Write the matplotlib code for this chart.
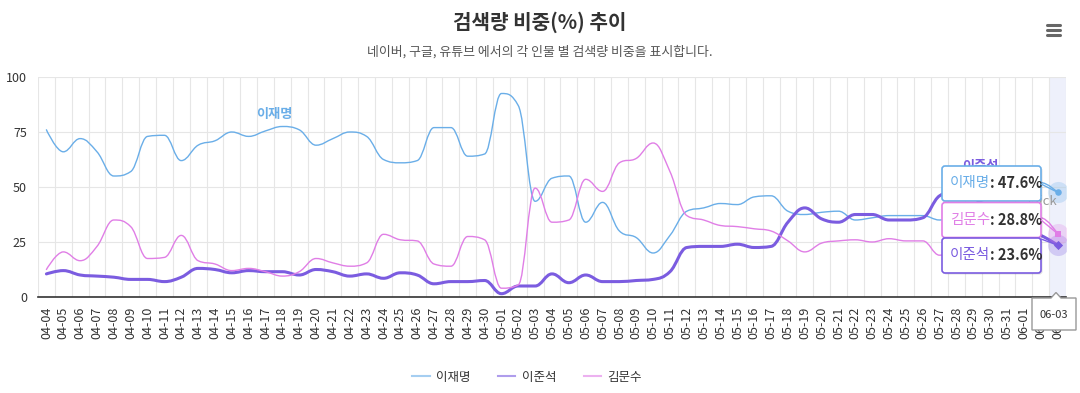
import numpy as np
import matplotlib
matplotlib.use('Agg')
import matplotlib.pyplot as plt
from matplotlib.path import Path
from matplotlib.patches import PathPatch, FancyBboxPatch, Polygon, ConnectionPatch
from matplotlib.lines import Line2D

plt.rcParams['font.family'] = ['Noto Sans CJK KR', 'DejaVu Sans']

#------------------------------------------------------------------------------
# data (search share, %)
dates = ['04-%02d' % d for d in range(4, 31)] + \
        ['05-%02d' % d for d in range(1, 32)] + \
        ['06-%02d' % d for d in range(1, 4)]

lee_jm = [76, 66, 72, 66, 55, 57, 73, 73.5, 62, 69,
          71, 75, 73, 75.5, 77.5, 76, 69, 72, 75, 73,
          62.5, 61, 62, 77, 77, 64, 65, 92.5, 87, 43.5,
          54, 55, 34, 43, 30, 27, 20, 28, 39, 40.5,
          42.5, 42, 45.5, 46, 39, 37.5, 38.5, 39, 35, 36,
          37, 37, 37, 35, 38, 42, 45, 48, 50, 52, 47.6]
lee_js = [10.5, 12, 10, 9.5, 9, 8, 8, 7, 9, 13,
          12.5, 11, 12, 11.5, 11.5, 10, 12.5, 11.5, 9.5, 10.5,
          8.5, 11, 10, 6, 7, 7, 7.5, 1.5, 5, 5,
          10.5, 6.5, 10, 7, 7, 7.5, 8, 11.5, 22.5, 23,
          23, 24, 22.5, 23, 34, 40.5, 35.5, 34, 37.5, 37.5,
          35, 35, 36, 46, 48, 45, 40, 35, 30, 28, 23.6]
kim_ms = [12.5, 20.5, 16.5, 23, 35, 32, 17.5, 18, 28, 16.5,
          15, 12, 13, 11.5, 9.5, 11.5, 17.5, 15.5, 14, 15.5,
          28.5, 26, 25.5, 15, 14, 27.5, 26, 4, 5.5, 49.5,
          34, 35, 53.5, 48, 61, 63, 70, 57, 37, 35,
          32.5, 32, 31, 30, 25.5, 20.5, 24.5, 25.5, 26, 25,
          26.5, 25.5, 25.5, 19, 22, 26, 30, 33, 35, 36, 28.8]

names = ['이재명', '이준석', '김문수']
colors = ['#6aaee8', '#7b5ce0', '#e07ee6']
widths = [1.0, 2.2, 1.0]
markers = ['o', 'D', 's']
title = '검색량 비중(%) 추이'
subtitle = '네이버, 구글, 유튜브 에서의 각 인물 별 검색량 비중을 표시합니다.'

#------------------------------------------------------------------------------
# highcharts-like spline path (bezier through the points)
def spline_path(xs, ys):
    n = len(xs)
    lc = [None]*n
    rc = [None]*n
    for i in range(n):
        x, y = xs[i], ys[i]
        if 0 < i < n-1:
            lx, ly = xs[i-1], ys[i-1]
            nx, ny = xs[i+1], ys[i+1]
            lcx = (1.5*x + lx)/2.5; lcy = (1.5*y + ly)/2.5
            rcx = (1.5*x + nx)/2.5; rcy = (1.5*y + ny)/2.5
            corr = ((rcy-lcy)*(rcx-x))/(rcx-lcx) + y - rcy
            lcy += corr; rcy += corr
            if lcy > ly and lcy > y:   lcy = max(ly, y); rcy = 2*y - lcy
            elif lcy < ly and lcy < y: lcy = min(ly, y); rcy = 2*y - lcy
            if rcy > ny and rcy > y:   rcy = max(ny, y); lcy = 2*y - rcy
            elif rcy < ny and rcy < y: rcy = min(ny, y); lcy = 2*y - rcy
            lc[i] = (lcx, lcy); rc[i] = (rcx, rcy)
        else:
            lc[i] = rc[i] = (x, y)
    verts = [(xs[0], ys[0])]
    codes = [Path.MOVETO]
    for i in range(1, n):
        verts += [rc[i-1], lc[i], (xs[i], ys[i])]
        codes += [Path.CURVE4]*3
    return Path(verts, codes)

#------------------------------------------------------------------------------
fig = plt.figure(figsize=(10.8, 3.93), dpi=100)
ax = fig.add_axes([38/1080, 96/393, 1028/1080, 220/393])
x = np.arange(len(dates))
last = len(dates) - 1

ax.axvspan(last-0.5, last+0.5, color='#eef0fb', zorder=0, lw=0)

series = [lee_jm, lee_js, kim_ms]
for vals, c, lw in zip(series, colors, widths):
    ax.add_patch(PathPatch(spline_path(x, vals), fill=False, ec=c, lw=lw,
                           capstyle='round', joinstyle='round', zorder=3))
for vals, c, m in zip(series, colors, markers):
    ax.scatter(x[last], vals[last], s=230, color=c, alpha=0.25, lw=0, zorder=4)
    ax.scatter(x[last], vals[last], s=22, color=c, marker=m, lw=0, zorder=5)

ax.set_xlim(-0.5, last+0.5)
ax.set_ylim(0, 100)
ax.set_xticks(x)
ax.set_xticklabels(dates, rotation=90, fontsize=9, color='#333333')
ax.set_xticks(np.arange(-0.5, last+1, 1), minor=True)
ax.set_yticks([0, 25, 50, 75, 100])
ax.tick_params(axis='y', length=0, pad=8, labelsize=9, labelcolor='#333333')
ax.tick_params(axis='x', which='both', length=0, pad=7)
ax.grid(which='minor', axis='x', color='#e6e6e6', lw=0.8)
ax.grid(which='major', axis='y', color='#e6e6e6', lw=0.8)
ax.set_axisbelow(True)
for s in ['top', 'right', 'left']:
    ax.spines[s].set_visible(False)
ax.spines['bottom'].set_color('#333333')
ax.spines['bottom'].set_linewidth(1.2)

# series labels
ax.text(13.5, 83, names[0], color=colors[0], fontsize=9.5, fontweight='bold',
        ha='center', va='center', zorder=6)
ax.text(55.4, 59.5, names[1], color=colors[1], fontsize=9.5, fontweight='bold',
        ha='center', va='center', zorder=6)
ax.text(59.97, 43.5, 'Click', color='#999999', fontsize=9.5, ha='right',
        va='center', zorder=6)

leg = ax.legend([Line2D([], [], color=c, lw=1.5, alpha=0.6) for c in colors], names,
                loc='center', bbox_to_anchor=(527/1080, 16/393),
                bbox_transform=fig.transFigure, ncol=3, frameon=False,
                fontsize=9, handlelength=1.4, handletextpad=0.5, columnspacing=2.2)
for t in leg.get_texts():
    t.set_color('#333333')

#------------------------------------------------------------------------------
# overlay in pixel coordinates: title, menu, tooltip
ov = fig.add_axes([0, 0, 1, 1], zorder=10)
ov.set_xlim(0, 1080)
ov.set_ylim(393, 0)
ov.axis('off')
ov.patch.set_alpha(0)

ov.text(540, 22, title, ha='center', va='center', fontsize=14.5,
        fontweight='bold', color='#333333')
ov.text(540, 52, subtitle, ha='center', va='center', fontsize=9.3, color='#555555')
for yy in [25, 30, 35]:
    ov.plot([1047, 1060], [yy, yy], color='#666666', lw=2.2, solid_capstyle='round')

order = sorted(range(3), key=lambda k: -series[k][last])
tops = [166, 202.5, 238]
anchors = [184, 220, 239]
for k, top, anc in zip(order, tops, anchors):
    c = colors[k]
    ov.add_patch(FancyBboxPatch((943.5, top+1.5), 99, 35, boxstyle='round,pad=0,rounding_size=3',
                                fc='#000000', alpha=0.12, lw=0))
    ov.add_patch(FancyBboxPatch((942, top), 99, 35, boxstyle='round,pad=0,rounding_size=3',
                                fc='white', ec=c, lw=1.2))
    t = ov.text(950, top+17.5, names[k], color=c, fontsize=10.5, va='center')
    ov.annotate(': %.1f%%' % series[k][last], xy=(1, 0.5), xycoords=t, va='center',
                fontsize=10.5, fontweight='bold', color='#333333')
    fig.add_artist(ConnectionPatch(xyA=(1041, anc), coordsA=ov.transData,
                                   xyB=(x[last], series[k][last]), coordsB=ax.transData,
                                   color=c, lw=1.0, zorder=11))

# date label under the axis
ov.add_patch(Polygon([(1032, 298), (1051, 298), (1056, 292.5), (1061, 298), (1076, 298),
                      (1076, 330), (1032, 330)], closed=True, fc='white', ec='#999999', lw=1))
ov.text(1054, 314.5, dates[last], ha='center', va='center', fontsize=8, color='#333333')

fig.savefig('out.png', dpi=100, facecolor='white')
